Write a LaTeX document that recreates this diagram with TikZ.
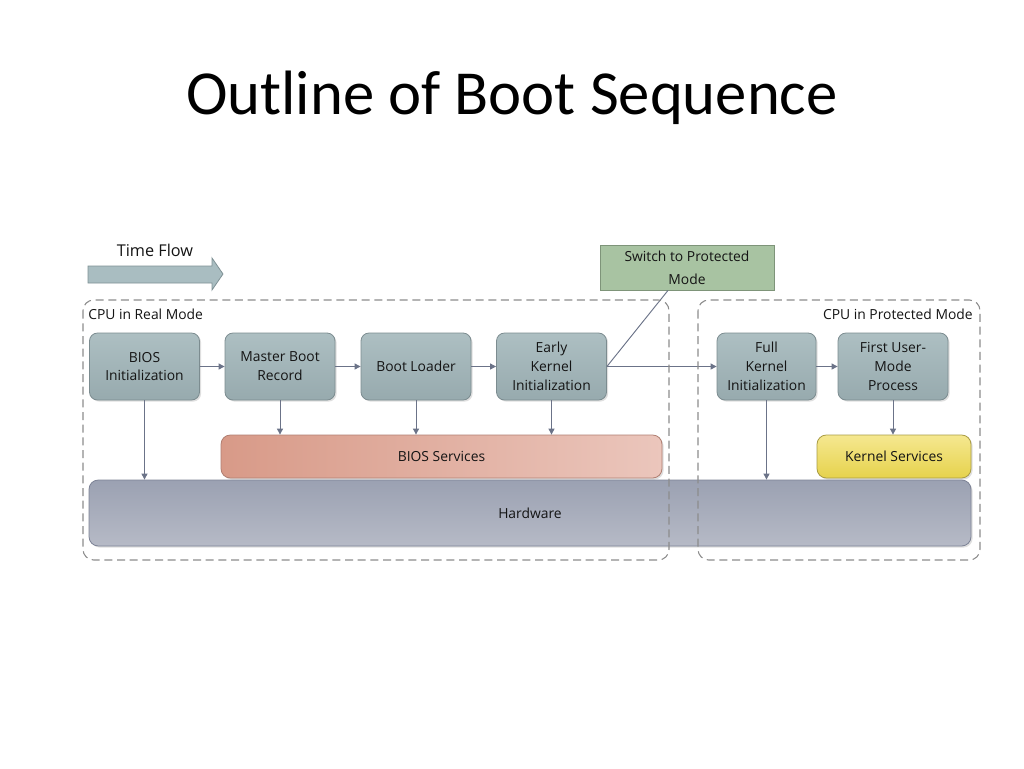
\documentclass[tikz,border=0pt]{standalone}
\usepackage{fontspec}
\setmainfont{Open Sans}
\newfontfamily\titlefont{Carlito}
\usetikzlibrary{arrows.meta,shadows,calc}
\definecolor{procfill}{HTML}{A3B6B9}
\definecolor{proctop}{HTML}{ADBFC2}
\definecolor{procbot}{HTML}{97AAAE}
\definecolor{procline}{HTML}{7C8C90}
\definecolor{arrowcol}{HTML}{6B7388}
\definecolor{dashcol}{HTML}{8C8C8C}
\definecolor{switchfill}{HTML}{A8C3A2}
\definecolor{switchline}{HTML}{7E9479}
\definecolor{biosl}{HTML}{D89A88}
\definecolor{biosr}{HTML}{EBC6BC}
\definecolor{biosline}{HTML}{B07F72}
\definecolor{kst}{HTML}{F5E890}
\definecolor{ksb}{HTML}{E6D24C}
\definecolor{ksline}{HTML}{A99C45}
\definecolor{hwt}{HTML}{9BA1B2}
\definecolor{hwb}{HTML}{B6BAC6}
\definecolor{hwline}{HTML}{7D8396}
\definecolor{tfill}{HTML}{A9BDC1}
\definecolor{tline}{HTML}{7F9195}
\definecolor{txt}{HTML}{141414}
\begin{document}
\begin{tikzpicture}[x=0.75pt,y=-0.75pt,
  diag/.style={font=\fontsize{10.4}{14.2}\selectfont, text=txt},
  proc/.style={diag, draw=procline, line width=0.6pt, top color=proctop, bottom color=procbot,
    rounded corners=6pt, minimum width=82.5pt, minimum height=50.25pt, align=center, inner sep=1pt,
    drop shadow={shadow xshift=1.2pt, shadow yshift=-1.2pt, opacity=0.25}},
  layer/.style={diag, rounded corners=7pt, line width=0.6pt, inner sep=1pt,
    drop shadow={shadow xshift=1.2pt, shadow yshift=-1.2pt, opacity=0.25}},
  flow/.style={draw=arrowcol, line width=0.7pt, -{Triangle[length=4.5pt,width=4.5pt]}},
  region/.style={draw=dashcol, line width=0.8pt, dash pattern=on 6pt off 3.5pt, rounded corners=8pt},
  lbl/.style={diag, inner sep=0pt}
]
\useasboundingbox (0,0) rectangle (1024,768);
\fill[white] (0,0) rectangle (1024,768);

% title
\node[font=\titlefont\fontsize{47}{56}\selectfont, text=black] (title) at (512,98) {Outline of Boot Sequence};

% time flow
\node[lbl, font=\fontsize{12.2}{14}\selectfont] (tflabel) at (155,250) {Time Flow};
\filldraw[fill=tfill, draw=tline, line width=0.6pt]
  (88,266) -- (212,266) -- (212,258) -- (223,274) -- (212,290) -- (212,283) -- (88,283) -- cycle;

% layers
\node[layer, draw=hwline, top color=hwt, bottom color=hwb, minimum width=661.5pt, minimum height=49.5pt] (hw) at (530,513) {Hardware};
\node[layer, draw=biosline, left color=biosl, right color=biosr, minimum width=330.75pt, minimum height=32.25pt] (bs) at (441.5,456.5) {BIOS Services};
\node[layer, draw=ksline, top color=kst, bottom color=ksb, minimum width=115.5pt, minimum height=32.25pt] (ks) at (894,456.5) {Kernel Services};

% process boxes
\node[proc] (bios) at (144.5,366.5) {BIOS\\Initialization};
\node[proc] (mbr) at (280,366.5) {Master Boot\\Record};
\node[proc] (bl) at (416,366.5) {Boot Loader};
\node[proc] (eki) at (551.5,366.5) {Early\\Kernel\\Initialization};
\node[proc, minimum width=74.25pt] (fki) at (766.5,366.5) {Full\\Kernel\\Initialization};
\node[proc] (fump) at (893,366.5) {First User-\\Mode\\Process};

% switch box
\node[diag, draw=switchline, fill=switchfill, line width=0.6pt, minimum width=130.5pt, minimum height=33.75pt,
  align=center, inner sep=1pt, font=\fontsize{10.4}{13}\selectfont] (sw) at (687,267.5) {Switch to Protected\\[4pt]Mode};
\coordinate (swfoot) at ($(sw.south)+(-19,0)$);

% connectors
\draw[flow] (bios) -- (mbr);
\draw[flow] (mbr) -- (bl);
\draw[flow] (bl) -- (eki);
\draw[flow] (eki) -- (fki);
\draw[flow] (fki) -- (fump);
\draw[draw=arrowcol, line width=0.7pt] (eki.east) -- (swfoot);
\draw[flow] (bios.south) -- (bios.south |- hw.north);
\draw[flow] (mbr.south) -- (mbr.south |- bs.north);
\draw[flow] (bl.south) -- (bl.south |- bs.north);
\draw[flow] (eki.south) -- (eki.south |- bs.north);
\draw[flow] (fki.south) -- (fki.south |- hw.north);
\draw[flow] (fump.south) -- (fump.south |- ks.north);

% regions
\draw[region] (83,300) rectangle (669,560);
\draw[region] (698,300) rectangle (980,560);
\node[lbl, anchor=west] (rm) at (88,314) {CPU in Real Mode};
\node[lbl, anchor=east] (pm) at (973,314) {CPU in Protected Mode};
\end{tikzpicture}
\end{document}
